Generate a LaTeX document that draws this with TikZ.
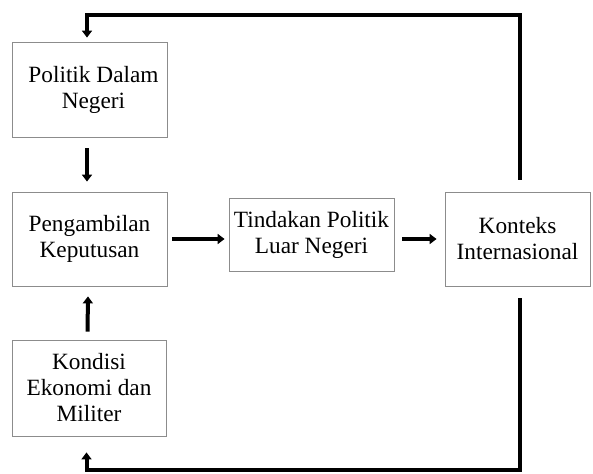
\documentclass[tikz,border=0pt]{standalone}
\usepackage{fontspec}
\setmainfont{Liberation Serif}
\usetikzlibrary{arrows.meta}
\begin{document}
\begin{tikzpicture}[x=1pt,y=-1pt,
 box/.style={draw=black!45,line width=0.8pt,align=center,inner sep=0pt,font=\fontsize{23.3}{26}\selectfont},
 conn/.style={line width=4pt,-{Triangle[width=10pt,length=7pt]}}]
\useasboundingbox (0,0) rectangle (593,473);
\node[box,minimum width=155pt,minimum height=95pt] (pol) at (89.5,89.5) {\hspace*{8pt}Politik Dalam\\\hspace*{8pt}Negeri};
\node[box,minimum width=155pt,minimum height=94pt] (pen) at (89.5,239) {Pengambilan\\Keputusan};
\node[box,minimum width=154pt,minimum height=96pt] (kon) at (89,388) {Kondisi\\Ekonomi dan\\Militer};
\node[box,minimum width=165pt,minimum height=73pt] (tin) at (311.5,234.5) {Tindakan Politik\\Luar Negeri};
\node[box,minimum width=145pt,minimum height=94pt] (ktx) at (517.5,239) {Konteks\\Internasional};
\coordinate (t) at (520,15);
\coordinate (b) at (520,470);
\draw[conn] ([xshift=2.5pt,yshift=12pt]ktx.north) -- (t) -| ([xshift=-2.5pt,yshift=4pt]pol.north);
\draw[conn] ([xshift=-2.5pt,yshift=-11pt]pol.south) -- ([xshift=-2.5pt,yshift=10pt]pen.north);
\draw[conn] ([xshift=-1.5pt,yshift=8pt]kon.north) -- ([xshift=-1.5pt,yshift=-10pt]pen.south);
\draw[conn] ([xshift=5pt]pen.east) -- ([xshift=-4pt]pen.east -| tin.west);
\draw[conn] ([xshift=8pt]tin.east |- ktx.west) -- ([xshift=-8pt]ktx.west);
\draw[conn] ([xshift=2.5pt,yshift=-12pt]ktx.south) -- (b) -| ([xshift=-2.5pt,yshift=-16pt]kon.south);
\end{tikzpicture}
\end{document}
